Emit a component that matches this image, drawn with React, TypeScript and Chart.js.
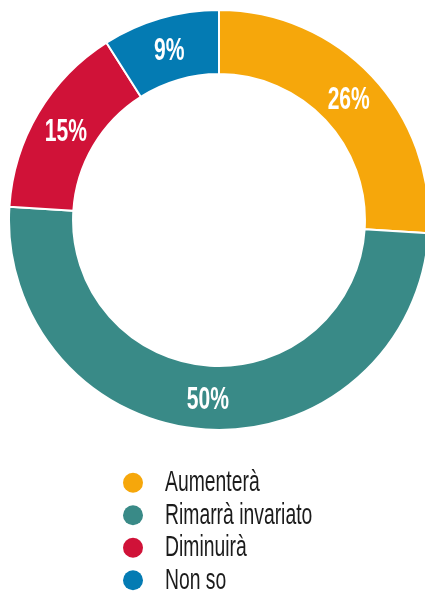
import React, { useEffect, useRef } from "react";
import { Chart, registerables } from "chart.js";

Chart.register(...registerables);

const categories = ["Aumenterà", "Rimarrà invariato", "Diminuirà", "Non so"];
const values = [26, 50, 15, 9];
const valueLabels = ["26%", "50%", "15%", "9%"];
const colors = ["#F6A70B", "#398A87", "#D01238", "#047BB3"];

const FONT = '"Liberation Sans", Arial, sans-serif';

const labelPlugin = {
  id: "sliceLabels",
  afterDatasetsDraw(chart: any) {
    const { ctx } = chart;
    const meta = chart.getDatasetMeta(0);
    const size = 31;
    ctx.save();
    ctx.fillStyle = "#ffffff";
    ctx.font = `bold ${size}px ${FONT}`;
    ctx.textAlign = "center";
    ctx.textBaseline = "alphabetic";
    meta.data.forEach((arc: any, i: number) => {
      const p = arc.tooltipPosition(false);
      ctx.save();
      ctx.translate(p.x, p.y + size * 0.36);
      ctx.scale(0.68, 1);
      ctx.fillText(valueLabels[i], 0, 0);
      ctx.restore();
    });
    ctx.restore();
  },
};

const legendPlugin = {
  id: "listLegend",
  afterDraw(chart: any) {
    const { ctx, chartArea } = chart;
    const labels: string[] = chart.data.labels;
    const bg: string[] = chart.data.datasets[0].backgroundColor;
    const size = 30;
    const rowH = 32.5;
    const firstRow = chartArea.bottom + 50.7;
    const dotX = chartArea.left + 125;
    const textX = chartArea.left + 157;
    ctx.save();
    labels.forEach((lab, i) => {
      const y = firstRow + i * rowH;
      ctx.beginPath();
      ctx.arc(dotX, y, 10, 0, Math.PI * 2);
      ctx.fillStyle = bg[i];
      ctx.fill();
      ctx.save();
      ctx.translate(textX, y + 8.3);
      ctx.scale(0.645, 1);
      ctx.font = `${size}px ${FONT}`;
      ctx.fillStyle = "#1b1b1b";
      ctx.textAlign = "left";
      ctx.textBaseline = "alphabetic";
      ctx.fillText(lab, 0, 0);
      ctx.restore();
    });
    ctx.restore();
  },
};

export default function App() {
  const ref = useRef<HTMLCanvasElement | null>(null);

  useEffect(() => {
    if (!ref.current) return;
    const chart = new Chart(ref.current, {
      type: "doughnut",
      data: {
        labels: categories,
        datasets: [
          {
            data: values,
            backgroundColor: colors,
            borderColor: "#ffffff",
            borderWidth: 2,
            hoverOffset: 0,
            hoverBorderWidth: 2,
          },
        ],
      },
      options: {
        responsive: false,
        animation: false,
        cutout: "69.5%",
        layout: { padding: { top: 0, left: 0, right: 0, bottom: 168 } },
        plugins: {
          legend: { display: false },
          tooltip: { enabled: false },
        },
      },
      plugins: [labelPlugin, legendPlugin],
    });
    return () => chart.destroy();
  }, []);

  return (
    <div style={{ position: "fixed", left: 8, top: 8, width: 417, height: 588, overflow: "hidden" }}>
      <canvas ref={ref} width={422} height={592} style={{ width: 422, height: 592, display: "block" }} />
    </div>
  );
}
